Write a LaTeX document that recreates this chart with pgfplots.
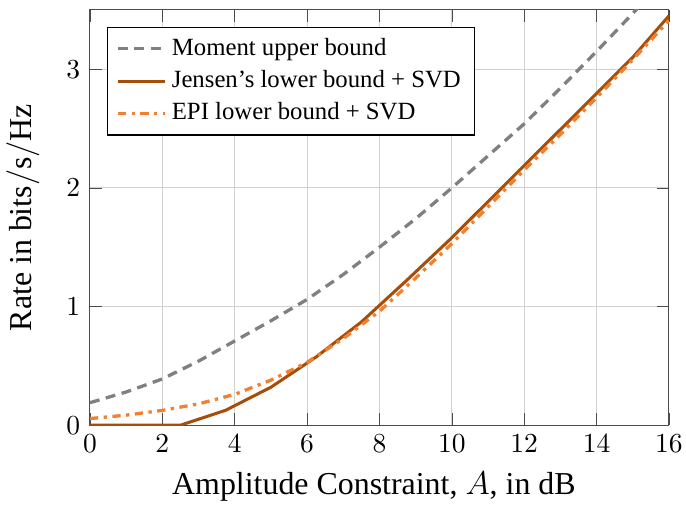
\documentclass[border=0pt]{standalone}
\usepackage{fontspec}
\setmainfont{Liberation Serif}
\usepackage{pgfplots}
\pgfplotsset{compat=1.18}
\definecolor{MomGray}{RGB}{128,128,128}
\definecolor{JenBrown}{RGB}{166,77,8}
\definecolor{EpiOrange}{RGB}{242,128,48}

\begin{document}
\begin{tikzpicture}
\begin{axis}[
	scale only axis,
	width=210.5pt,
	height=151pt,
	xmin=0, xmax=16,
	ymin=0, ymax=3.5,
	xtick={0,2,...,16},
	ytick={0,1,2,3},
	grid=major,
	major grid style={line width=0.4pt, draw=gray!35},
	axis line style={draw=black!70},
	tick style={draw=black!70},
	tick label style={font=\fontsize{10}{12}\selectfont},
	label style={font=\fontsize{11.6}{14}\selectfont},
	xlabel={Amplitude Constraint, $A$, in dB},
	xlabel style={xshift=-2pt},
	ylabel={Rate in $\mathrm{bits/s/Hz}$},
	ylabel shift=3pt,
	legend style={at={(0.03,0.96)}, anchor=north west, font=\fontsize{9}{11}\selectfont, draw=black, cells={anchor=west}},
]
\addplot[MomGray, line width=1.2pt, dash pattern=on 3.6pt off 2.4pt] coordinates {
(0,0.19) (1,0.28) (2,0.39) (3,0.54) (4,0.71) (5,0.88) (6,1.06) (7,1.27) (8,1.50)
(9,1.74) (10,2.00) (11,2.27) (12,2.54) (13,2.84) (14,3.15) (15,3.47) (16,3.80)};
\addlegendentry{Moment upper bound}
\addplot[JenBrown, line width=1.1pt] coordinates {
(0,0) (1.25,0) (2.5,0) (3.75,0.126) (5,0.32) (6.25,0.575) (7.5,0.87) (8.75,1.22)
(10,1.58) (11.25,1.96) (12.5,2.34) (13.75,2.72) (15,3.10) (16,3.45)};
\addlegendentry{Jensen's lower bound + SVD}
\addplot[EpiOrange, line width=1.2pt, dashdotted] coordinates {
(0,0.056) (1,0.085) (2,0.125) (3,0.18) (4,0.26) (5,0.38) (6,0.53) (7,0.73) (8,0.96)
(9,1.24) (10,1.53) (11,1.84) (12,2.15) (13,2.45) (14,2.76) (15,3.08) (16,3.41)};
\addlegendentry{EPI lower bound + SVD}
\end{axis}
\pgfresetboundingbox
\path[use as bounding box] ([xshift=-32.7pt,yshift=-29.5pt]current axis.south west)
	rectangle ([xshift=6.2pt,yshift=3.6pt]current axis.north east);
\end{tikzpicture}
\end{document}
